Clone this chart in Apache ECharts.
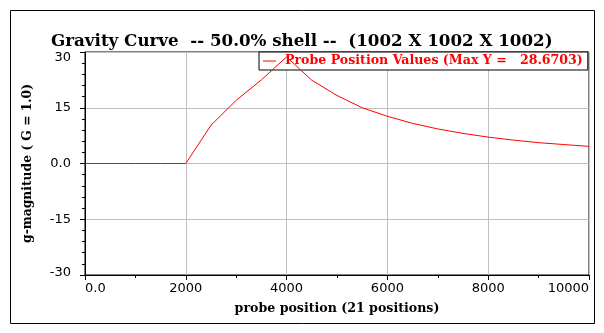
<!DOCTYPE html>
<html><head><meta charset="utf-8">
<script src="https://cdn.jsdelivr.net/npm/echarts@6/dist/echarts.min.js"></script>
<style>html,body{margin:0;padding:0;background:#fff}#c{width:604px;height:333px}</style>
</head><body><div id="c"></div>
<script>
const titleText = 'Gravity Curve  -- 50.0% shell --  (1002 X 1002 X 1002)';
const xName = 'probe position (21 positions)';
const yName = 'g-magnitude ( G = 1.0)';
const seriesName = 'Probe Position Values (Max Y =   28.6703)';
const positions = [0,500,1000,1500,2000,2500,3000,3500,4000,4500,5000,5500,6000,6500,7000,7500,8000,8500,9000,9500,10000];
const gValues = [0,0,0,0,0,10.3,17.0,22.5,28.6703,22.4,18.3,15.0,12.7,10.8,9.3,8.1,7.1,6.3,5.6,5.1,4.6];
const xTicks = {min:0, max:10000, interval:2000};
const yTicks = {min:-30, max:30, interval:15};

const chart = echarts.init(document.getElementById('c'), null, {renderer:'canvas'});
const serif = '"DejaVu Serif", serif';
const sans = '"DejaVu Sans", sans-serif';
chart.setOption({
  backgroundColor:'#fff',
  animation:false,
  title:{text:titleText, left:46, top:28, textStyle:{fontFamily:serif, fontWeight:'bold', fontSize:16.7, color:'#000'}},
  graphic:[{type:'rect', shape:{x:10.5,y:10.5,width:584,height:313}, style:{fill:'none', stroke:'#000', lineWidth:1}, z:-1}],
  legend:{show:true, left:259, top:52, padding:[1,5,1,4], backgroundColor:'#fff', borderColor:'#000', borderWidth:1, borderRadius:0,
    icon:'rect', itemWidth:13, itemHeight:1, z:1,
    textStyle:{fontFamily:serif, fontWeight:'bold', fontSize:12.6, color:'#ff0000', lineHeight:16, padding:[0,0,0,4]},
    data:[seriesName]},
  grid:{left:85, right:15, top:52, bottom:58, show:true, borderColor:'#000', borderWidth:1, backgroundColor:'transparent'},
  xAxis:{type:'value', min:xTicks.min, max:xTicks.max, interval:xTicks.interval,
    name:xName, nameLocation:'middle', nameGap:27, nameTextStyle:{fontFamily:serif, fontWeight:'bold', fontSize:12.6, color:'#000'},
    axisLine:{show:true, onZero:false, lineStyle:{color:'#000'}},
    axisTick:{show:true, length:5, lineStyle:{color:'#000'}},
    minorTick:{show:true, splitNumber:2, length:3, lineStyle:{color:'#000'}},
    splitLine:{show:true, lineStyle:{color:'#c0c0c0'}},
    axisLabel:{fontFamily:sans, fontSize:13, color:'#000', margin:7, alignMinLabel:'left', alignMaxLabel:'right',
      formatter:v=> v===0 ? '0.0' : String(v)}},
  yAxis:{type:'value', min:yTicks.min, max:yTicks.max, interval:yTicks.interval,
    name:yName, nameLocation:'middle', nameGap:51, nameTextStyle:{fontFamily:serif, fontWeight:'bold', fontSize:12.3, color:'#000'},
    axisLine:{show:true, onZero:false, lineStyle:{color:'#000'}},
    axisTick:{show:true, length:5, lineStyle:{color:'#000'}},
    minorTick:{show:true, splitNumber:5, length:3, lineStyle:{color:'#000'}},
    splitLine:{show:true, lineStyle:{color:'#c0c0c0'}},
    axisLabel:{fontFamily:sans, fontSize:13, color:'#000', margin:14,
      formatter:v=> v===0 ? '0.0' : (v===yTicks.max ? '{t|'+v+'}' : (v===yTicks.min ? '{b|'+v+'}' : String(v))),
      rich:{t:{fontFamily:sans, fontSize:13, color:'#000', padding:[12,0,0,0]}, b:{fontFamily:sans, fontSize:13, color:'#000', padding:[0,0,4,0]}}}},
  series:[{name:seriesName, type:'line', data:positions.map((p,i)=>[p,gValues[i]]), showSymbol:false, symbol:'none',
    lineStyle:{color:'#ff0000', width:1}, itemStyle:{color:'#ff0000'}, z:3}]
});
</script></body></html>
